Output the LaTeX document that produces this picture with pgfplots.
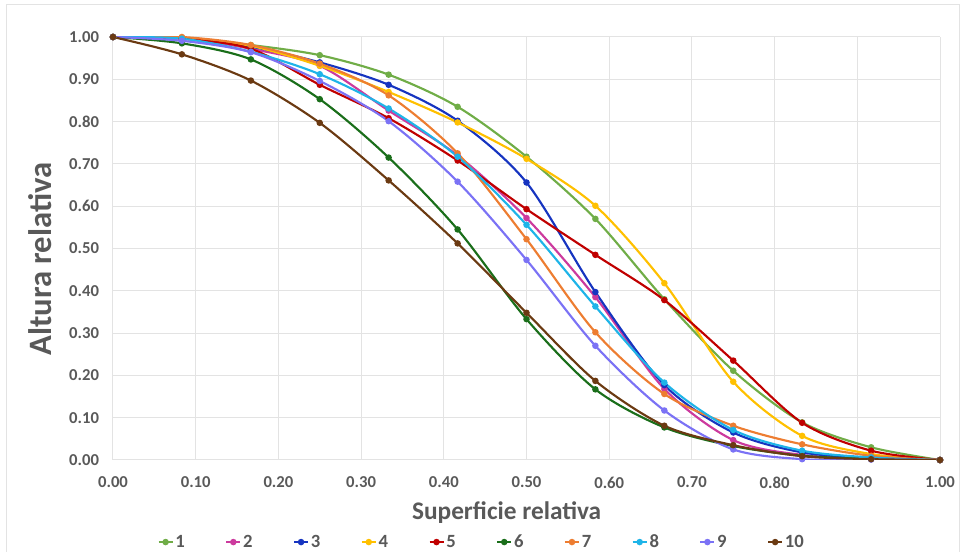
\documentclass[border=0pt]{standalone}
\usepackage{fontspec}
\setmainfont{Carlito}
\usepackage{pgfplots}
\pgfplotsset{compat=1.18}
\definecolor{txt}{HTML}{595959}
\definecolor{gridc}{HTML}{E3E3E3}
\definecolor{cA}{HTML}{70AD47}
\definecolor{cB}{HTML}{CC3A9E}
\definecolor{cC}{HTML}{1634C0}
\definecolor{cD}{HTML}{FFC000}
\definecolor{cE}{HTML}{C00000}
\definecolor{cF}{HTML}{1A6E1A}
\definecolor{cG}{HTML}{ED7D31}
\definecolor{cH}{HTML}{1EB4E8}
\definecolor{cI}{HTML}{7B72F5}
\definecolor{cJ}{HTML}{6B3A12}
\tikzset{ser/.style={line width=1.6pt, mark=*, mark size=1.6pt, smooth}}
\begin{document}
\begin{tikzpicture}[x=0.75pt,y=0.75pt]
% 1px = 0.75pt; plot box 827x423 px, origin at px (113,460)
\useasboundingbox (-113,-92) rectangle (853,460);
\draw[gridc, line width=0.75pt] (-106,-100) rectangle (846,455);
\begin{axis}[at={(0,0)}, anchor=origin, scale only axis,
  width=620.25pt, height=317.25pt,
  xmin=0, xmax=1, ymin=0, ymax=1,
  xtick={0,0.1,...,1.01}, ytick={0,0.1,...,1.01},
  major tick length=0pt,
  axis line style={draw=none},
  grid=major, grid style={gridc, line width=0.75pt},
  ticklabel style={font=\bfseries\fontsize{12.5}{14}\selectfont, text=txt},
  /pgf/number format/.cd, fixed, fixed zerofill, precision=2, assume math mode=true, /pgfplots/.cd,
  xticklabel style={yshift=-9pt},
  yticklabel style={xshift=-7pt},
  xlabel={Superficie relativa}, ylabel={Altura relativa},
  xlabel style={font=\bfseries\fontsize{19}{22}\selectfont, text=txt,
    at={(axis description cs:0.476,-0.125)}, anchor=center},
  ylabel style={font=\bfseries\fontsize{24.5}{26}\selectfont, text=txt,
    at={(axis description cs:-0.0883,0.475)}, anchor=center},
  legend columns=10,
  legend style={at={(axis description cs:0.446,-0.194)}, anchor=center, draw=none,
    font=\bfseries\fontsize{14}{15}\selectfont, text=txt,
    nodes={inner xsep=1.5pt},
    /tikz/every even column/.append style={column sep=29pt}},
  legend image code/.code={\draw[#1, line width=1.2pt] (0pt,0pt) -- (10.5pt,0pt); \fill[#1] (5.25pt,0pt) circle (1.6pt);},
]
\addplot[ser, cA] coordinates {(0,1) (0.0833,0.997) (0.1667,0.981) (0.25,0.957) (0.3333,0.911) (0.4167,0.835) (0.5,0.717) (0.5833,0.570) (0.6667,0.380) (0.75,0.211) (0.8333,0.089) (0.9167,0.030) (1,0)};
\addlegendentry{1}
\addplot[ser, cB] coordinates {(0,1) (0.0833,0.998) (0.1667,0.972) (0.25,0.932) (0.3333,0.826) (0.4167,0.720) (0.5,0.572) (0.5833,0.385) (0.6667,0.168) (0.75,0.047) (0.8333,0.012) (0.9167,0.004) (1,0)};
\addlegendentry{2}
\addplot[ser, cC] coordinates {(0,1) (0.0833,0.998) (0.1667,0.977) (0.25,0.940) (0.3333,0.887) (0.4167,0.802) (0.5,0.656) (0.5833,0.397) (0.6667,0.177) (0.75,0.065) (0.8333,0.018) (0.9167,0.005) (1,0)};
\addlegendentry{3}
\addplot[ser, cD] coordinates {(0,1) (0.0833,0.998) (0.1667,0.979) (0.25,0.932) (0.3333,0.870) (0.4167,0.798) (0.5,0.712) (0.5833,0.601) (0.6667,0.418) (0.75,0.185) (0.8333,0.057) (0.9167,0.014) (1,0)};
\addlegendentry{4}
\addplot[ser, cE] coordinates {(0,1) (0.0833,0.996) (0.1667,0.972) (0.25,0.887) (0.3333,0.808) (0.4167,0.708) (0.5,0.593) (0.5833,0.485) (0.6667,0.378) (0.75,0.235) (0.8333,0.088) (0.9167,0.022) (1,0)};
\addlegendentry{5}
\addplot[ser, cF] coordinates {(0,1) (0.0833,0.985) (0.1667,0.947) (0.25,0.853) (0.3333,0.715) (0.4167,0.545) (0.5,0.333) (0.5833,0.167) (0.6667,0.077) (0.75,0.033) (0.8333,0.010) (0.9167,0.003) (1,0)};
\addlegendentry{6}
\addplot[ser, cG] coordinates {(0,1) (0.0833,1.000) (0.1667,0.981) (0.25,0.937) (0.3333,0.862) (0.4167,0.725) (0.5,0.522) (0.5833,0.302) (0.6667,0.156) (0.75,0.081) (0.8333,0.037) (0.9167,0.010) (1,0)};
\addlegendentry{7}
\addplot[ser, cH] coordinates {(0,1) (0.0833,0.996) (0.1667,0.965) (0.25,0.912) (0.3333,0.831) (0.4167,0.717) (0.5,0.556) (0.5833,0.363) (0.6667,0.183) (0.75,0.071) (0.8333,0.022) (0.9167,0.006) (1,0)};
\addlegendentry{8}
\addplot[ser, cI] coordinates {(0,1) (0.0833,0.991) (0.1667,0.964) (0.25,0.896) (0.3333,0.801) (0.4167,0.658) (0.5,0.473) (0.5833,0.270) (0.6667,0.117) (0.75,0.025) (0.8333,0.002) (0.9167,0.001) (1,0)};
\addlegendentry{9}
\addplot[ser, cJ] coordinates {(0,1) (0.0833,0.959) (0.1667,0.897) (0.25,0.797) (0.3333,0.661) (0.4167,0.512) (0.5,0.348) (0.5833,0.187) (0.6667,0.081) (0.75,0.035) (0.8333,0.009) (0.9167,0.002) (1,0)};
\addlegendentry{10}
\end{axis}
\end{tikzpicture}
\end{document}
